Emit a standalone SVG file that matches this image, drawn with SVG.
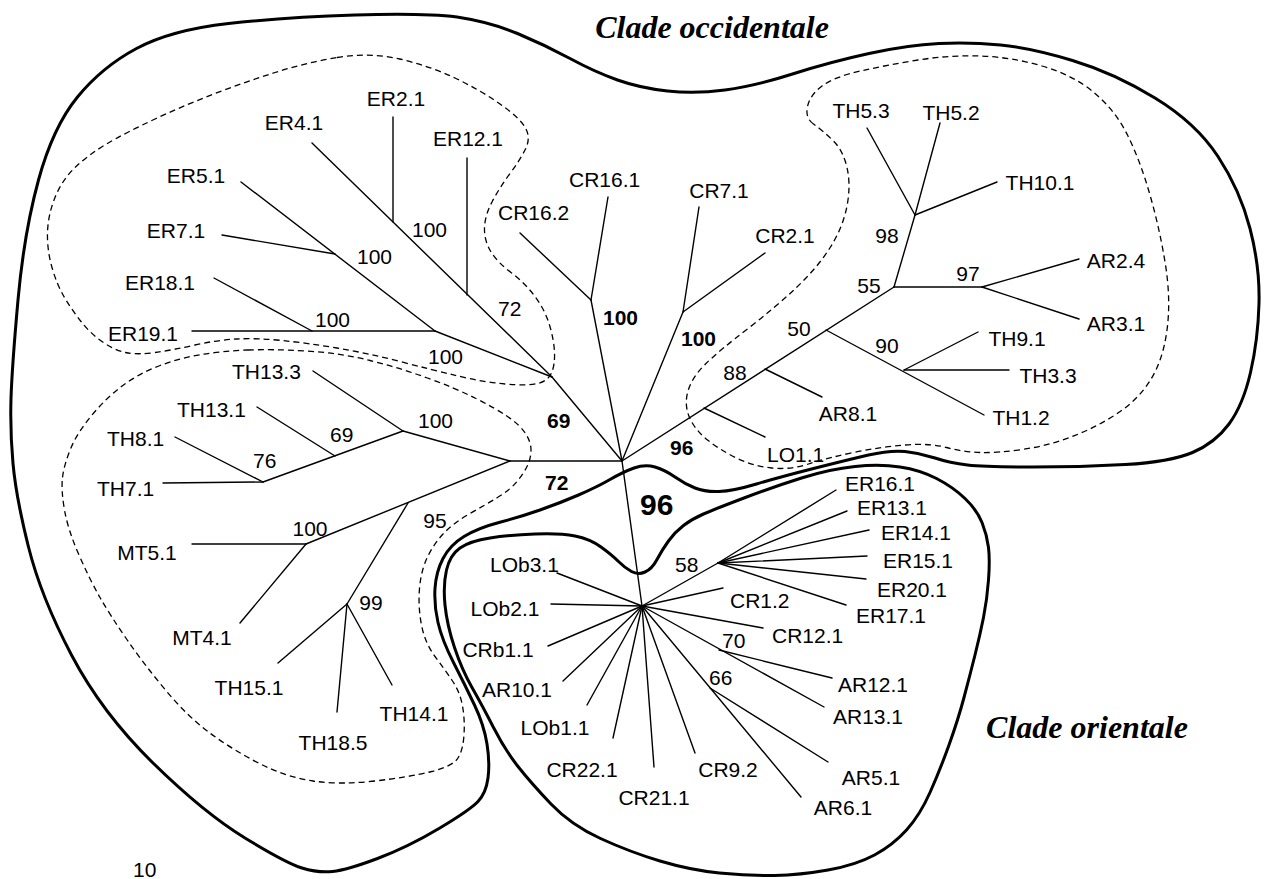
<svg xmlns="http://www.w3.org/2000/svg" width="1265" height="879" viewBox="0 0 1265 879">
<style>
.bg{fill:#fff}
.br{stroke:#000;stroke-width:1.4;fill:none;stroke-linecap:round}
.clade{stroke:#000;stroke-width:3;fill:none}
.grp{stroke:#000;stroke-width:1.3;fill:none;stroke-dasharray:6 4}
text{font-family:"Liberation Sans",Arial,sans-serif;font-size:21px;fill:#000}
.b{font-weight:bold}
.big{font-weight:bold;font-size:30px}
.title{font-family:"Liberation Serif","Times New Roman",serif;font-style:italic;font-weight:bold;font-size:32px}
</style>
<rect class="bg" width="1265" height="879"/>
<g id="regions">
<path id="clade-occidentale" class="clade" d="M355,15 Q424,13 457,17 Q490,22 517.5,33.5 Q545,45 570,58.5 Q595,72 617.5,80 Q640,88 667.5,91 Q695,94 725,90 Q755,86 792.5,74 Q830,62 869,53.5 Q908,45 939,43.5 Q970,42 1000.5,45 Q1031,48 1072.5,60.5 Q1114,73 1155,98 Q1196,123 1218,156.5 Q1240,190 1250,228.5 Q1260,267 1259,303.5 Q1258,340 1250.5,372.5 Q1243,405 1229,424 Q1215,443 1192.5,452.5 Q1170,462 1125,464.5 Q1080,467 1032.5,467 Q985,467 967.5,465 Q950,463 935,458 Q920,453 905,451.5 Q890,450 868.5,455 Q847,460 813.5,468.5 Q780,477 756.5,484 Q733,491 719,491.5 Q705,492 695,488 Q685,484 675,477 Q665,470 655,467 Q645,464 634,468 Q623,472 610,479.5 Q597,487 578.5,495 Q560,503 540,510 Q520,517 499,522.5 Q478,528 464,536.5 Q450,545 443,558.5 Q436,572 435,588.5 Q434,605 438,622.5 Q442,640 453.5,662.5 Q465,685 474.5,705 Q484,725 487,744 Q490,763 488,778 Q486,793 478,801.5 Q470,810 439,828.5 Q408,847 377.5,858.5 Q347,870 332.5,871.5 Q318,873 302,868 Q286,863 245,838 Q204,813 153,763 Q102,713 71.5,655 Q41,597 28.5,547 Q16,497 13,463.5 Q10,430 11,398.5 Q12,367 18,300 Q24,233 38.5,180 Q53,127 77.5,97 Q102,67 136.5,48.5 Q171,30 228.5,23.5 Q286,17 355,15 Z"/>
<path id="clade-orientale" class="clade" d="M631.5,571.5 Q638,575 645,572 Q652,569 657,559.5 Q662,550 668.5,541 Q675,532 683.5,525.5 Q692,519 703.5,514 Q715,509 744,498 Q773,487 801.5,478 Q830,469 855,466.5 Q880,464 900,467 Q920,470 936.5,478.5 Q953,487 965,498.5 Q977,510 982,522.5 Q987,535 988.5,547.5 Q990,560 988.5,580 Q987,600 983.5,617.5 Q980,635 975,655 Q970,675 964,697.5 Q958,720 949,745 Q940,770 930,792.5 Q920,815 906.5,830 Q893,845 874.5,855 Q856,865 828,870 Q800,875 774.5,875.5 Q749,876 719.5,873 Q690,870 660,861 Q630,852 600.5,838.5 Q571,825 551,804 Q531,783 518,766.5 Q505,750 493.5,727.5 Q482,705 472,687.5 Q462,670 454.5,647.5 Q447,625 445,605 Q443,585 446.5,570 Q450,555 460,548 Q470,541 490,538 Q510,535 535,534 Q560,533 575,536 Q590,539 601,547 Q612,555 618.5,561.5 Q625,568 631.5,571.5 Z"/>
<path id="group-ER" class="grp" d="M337,57.5 Q369,52 399.5,59 Q430,66 455,78 Q480,90 500,104 Q520,118 525.5,128 Q531,138 525.5,149 Q520,160 510,173.5 Q500,187 492.5,201 Q485,215 484.5,227.5 Q484,240 490.5,251 Q497,262 511,272.5 Q525,283 535,296.5 Q545,310 549.5,325 Q554,340 554.5,352.5 Q555,365 551.5,373 Q548,381 537.5,383.5 Q527,386 505,384 Q483,382 458,376 Q433,370 400,361.5 Q367,353 337,348 Q307,343 282,340.5 Q257,338 237,339 Q217,340 195,345 Q173,350 155,352.5 Q137,355 125.5,352.5 Q114,350 102,341.5 Q90,333 81,321.5 Q72,310 64.5,297.5 Q57,285 52,267.5 Q47,250 47.5,232.5 Q48,215 55,197.5 Q62,180 75,167.5 Q88,155 106.5,144 Q125,133 155,119 Q185,105 215,93.5 Q245,82 275,72.5 Q305,63 337,57.5 Z"/>
<path id="group-TH-west" class="grp" d="M248,350 Q273,349 306.5,351 Q340,353 370,360.5 Q400,368 427.5,378 Q455,388 475,398 Q495,408 507.5,416.5 Q520,425 525.5,433.5 Q531,442 531,450 Q531,458 527.5,465.5 Q524,473 517,481.5 Q510,490 497.5,497.5 Q485,505 470,513.5 Q455,522 445,532 Q435,542 428,556 Q421,570 419.5,588.5 Q418,607 421.5,625 Q425,643 435,656.5 Q445,670 452.5,681 Q460,692 462.5,706 Q465,720 464,735 Q463,750 458,758 Q453,766 431.5,771.5 Q410,777 375,781 Q340,785 313,781 Q286,777 259.5,763.5 Q233,750 210.5,733.5 Q188,717 165.5,690 Q143,663 126.5,639 Q110,615 100,597.5 Q90,580 79,555 Q68,530 64.5,510 Q61,490 62.5,477.5 Q64,465 70.5,449 Q77,433 92,415 Q107,397 123.5,385 Q140,373 160,365.5 Q180,358 201.5,354.5 Q223,351 248,350 Z"/>
<path id="group-TH-east" class="grp" d="M813.5,124 Q805,118 807.5,106.5 Q810,95 822,86 Q834,77 860.5,71 Q887,65 918,60 Q949,55 980,56 Q1011,57 1042,66 Q1073,75 1094,92.5 Q1115,110 1127.5,135 Q1140,160 1150,195 Q1160,230 1165.5,265 Q1171,300 1167,330 Q1163,360 1150.5,380 Q1138,400 1116.5,414 Q1095,428 1071,437 Q1047,446 1022,449.5 Q997,453 980,452.5 Q963,452 946.5,447.5 Q930,443 905,445 Q880,447 853.5,452.5 Q827,458 808.5,464 Q790,470 771.5,468 Q753,466 736.5,458 Q720,450 707.5,440 Q695,430 689.5,417.5 Q684,405 688,391 Q692,377 706,363.5 Q720,350 748,328.5 Q776,307 797,287 Q818,267 830.5,247 Q843,227 847,206 Q851,185 847,167.5 Q843,150 832.5,140 Q822,130 813.5,124 Z"/>
</g>
<g id="connectors" class="br">
<line x1="622" y1="461" x2="552" y2="377"/>
<line x1="552" y1="377" x2="312" y2="143"/>
<line x1="467" y1="295" x2="467" y2="158"/>
<line x1="393" y1="222" x2="393" y2="117"/>
<line x1="552" y1="377" x2="435" y2="331"/>
<line x1="435" y1="331" x2="241" y2="182"/>
<line x1="335" y1="254" x2="222" y2="235"/>
<line x1="435" y1="331" x2="192" y2="331"/>
<line x1="312" y1="331" x2="214" y2="278"/>
<line x1="622" y1="461" x2="591" y2="300"/>
<line x1="591" y1="300" x2="608" y2="197"/>
<line x1="591" y1="300" x2="520" y2="233"/>
<line x1="622" y1="461" x2="683" y2="312"/>
<line x1="683" y1="312" x2="699" y2="207"/>
<line x1="683" y1="312" x2="765" y2="253"/>
<line x1="622" y1="461" x2="894" y2="287"/>
<line x1="704" y1="408" x2="765" y2="437"/>
<line x1="765" y1="369" x2="822" y2="397"/>
<line x1="826" y1="330" x2="984" y2="415"/>
<line x1="904" y1="370" x2="978" y2="332"/>
<line x1="904" y1="370" x2="1009" y2="370"/>
<line x1="894" y1="287" x2="982" y2="287"/>
<line x1="982" y1="287" x2="1079" y2="259"/>
<line x1="982" y1="287" x2="1079" y2="319"/>
<line x1="894" y1="287" x2="915" y2="215"/>
<line x1="915" y1="215" x2="867" y2="128"/>
<line x1="915" y1="215" x2="940" y2="123"/>
<line x1="915" y1="215" x2="997" y2="182"/>
<line x1="622" y1="461" x2="510" y2="461"/>
<line x1="510" y1="461" x2="403" y2="431"/>
<line x1="403" y1="431" x2="313" y2="371"/>
<line x1="403" y1="431" x2="263" y2="482"/>
<line x1="335" y1="456" x2="257" y2="407"/>
<line x1="263" y1="482" x2="175" y2="437"/>
<line x1="263" y1="482" x2="163" y2="483"/>
<line x1="510" y1="461" x2="306" y2="544"/>
<line x1="306" y1="544" x2="192" y2="544"/>
<line x1="306" y1="544" x2="240" y2="623"/>
<line x1="408" y1="503" x2="347" y2="604"/>
<line x1="347" y1="604" x2="278" y2="663"/>
<line x1="347" y1="604" x2="337" y2="712"/>
<line x1="347" y1="604" x2="392" y2="685"/>
<line x1="622" y1="461" x2="642" y2="606"/>
<line x1="642" y1="606" x2="557" y2="573"/>
<line x1="642" y1="606" x2="551" y2="604"/>
<line x1="642" y1="606" x2="548" y2="646"/>
<line x1="642" y1="606" x2="563" y2="681"/>
<line x1="642" y1="606" x2="587" y2="705"/>
<line x1="642" y1="606" x2="613" y2="738"/>
<line x1="642" y1="606" x2="654" y2="767"/>
<line x1="642" y1="606" x2="695" y2="753"/>
<line x1="642" y1="606" x2="801" y2="797"/>
<line x1="710" y1="688" x2="828" y2="762"/>
<line x1="642" y1="606" x2="824" y2="707"/>
<line x1="719" y1="650" x2="832" y2="678"/>
<line x1="642" y1="606" x2="763" y2="628"/>
<line x1="642" y1="606" x2="723" y2="588"/>
<line x1="642" y1="606" x2="718" y2="563"/>
<line x1="718" y1="563" x2="836" y2="490"/>
<line x1="718" y1="563" x2="847" y2="511"/>
<line x1="718" y1="563" x2="869" y2="530"/>
<line x1="718" y1="563" x2="867" y2="556"/>
<line x1="718" y1="563" x2="866" y2="579"/>
<line x1="718" y1="563" x2="846" y2="605"/>
</g>
<g id="titles">
<text class="title" x="712" y="38" text-anchor="middle">Clade occidentale</text>
<text class="title" x="1087" y="738" text-anchor="middle">Clade orientale</text>
</g>
<g id="scale"><text x="133" y="877">10</text></g>
<g id="leaves-ER">
<g id="n-ER2.1"><text x="396" y="106" text-anchor="middle">ER2.1</text></g>
<g id="n-ER4.1"><text x="294" y="130" text-anchor="middle">ER4.1</text></g>
<g id="n-ER12.1"><text x="433" y="146">ER12.1</text></g>
<g id="n-ER5.1"><text x="196" y="183" text-anchor="middle">ER5.1</text></g>
<g id="n-ER7.1"><text x="176" y="238" text-anchor="middle">ER7.1</text></g>
<g id="n-ER18.1"><text x="160" y="290" text-anchor="middle">ER18.1</text></g>
<g id="n-ER19.1"><text x="108" y="341">ER19.1</text></g>
</g>
<g id="leaves-CR-west">
<g id="n-CR16.2"><text x="498" y="220">CR16.2</text></g>
<g id="n-CR16.1"><text x="569" y="187">CR16.1</text></g>
<g id="n-CR7.1"><text x="719" y="198" text-anchor="middle">CR7.1</text></g>
<g id="n-CR2.1"><text x="785" y="243" text-anchor="middle">CR2.1</text></g>
</g>
<g id="leaves-TH-east">
<g id="n-TH5.3"><text x="861" y="118" text-anchor="middle">TH5.3</text></g>
<g id="n-TH5.2"><text x="951" y="120" text-anchor="middle">TH5.2</text></g>
<g id="n-TH10.1"><text x="1040" y="190" text-anchor="middle">TH10.1</text></g>
<g id="n-AR2.4"><text x="1116" y="268" text-anchor="middle">AR2.4</text></g>
<g id="n-AR3.1"><text x="1116" y="331" text-anchor="middle">AR3.1</text></g>
<g id="n-TH9.1"><text x="1017" y="346" text-anchor="middle">TH9.1</text></g>
<g id="n-TH3.3"><text x="1048" y="383" text-anchor="middle">TH3.3</text></g>
<g id="n-TH1.2"><text x="1021" y="425" text-anchor="middle">TH1.2</text></g>
<g id="n-AR8.1"><text x="848" y="421" text-anchor="middle">AR8.1</text></g>
<g id="n-LO1.1"><text x="767" y="462">LO1.1</text></g>
</g>
<g id="leaves-TH-west">
<g id="n-TH13.3"><text x="232" y="379">TH13.3</text></g>
<g id="n-TH13.1"><text x="177" y="417">TH13.1</text></g>
<g id="n-TH8.1"><text x="107" y="446">TH8.1</text></g>
<g id="n-TH7.1"><text x="97" y="496">TH7.1</text></g>
<g id="n-MT5.1"><text x="147" y="560" text-anchor="middle">MT5.1</text></g>
<g id="n-MT4.1"><text x="202" y="645" text-anchor="middle">MT4.1</text></g>
<g id="n-TH15.1"><text x="249" y="695" text-anchor="middle">TH15.1</text></g>
<g id="n-TH18.5"><text x="333" y="750" text-anchor="middle">TH18.5</text></g>
<g id="n-TH14.1"><text x="414" y="721" text-anchor="middle">TH14.1</text></g>
</g>
<g id="leaves-orientale">
<g id="n-LOb3.1"><text x="490" y="572">LOb3.1</text></g>
<g id="n-LOb2.1"><text x="505" y="616" text-anchor="middle">LOb2.1</text></g>
<g id="n-CRb1.1"><text x="498" y="657" text-anchor="middle">CRb1.1</text></g>
<g id="n-AR10.1"><text x="517" y="697" text-anchor="middle">AR10.1</text></g>
<g id="n-LOb1.1"><text x="555" y="735" text-anchor="middle">LOb1.1</text></g>
<g id="n-CR22.1"><text x="582" y="777" text-anchor="middle">CR22.1</text></g>
<g id="n-CR21.1"><text x="654" y="805" text-anchor="middle">CR21.1</text></g>
<g id="n-CR9.2"><text x="728" y="777" text-anchor="middle">CR9.2</text></g>
<g id="n-AR6.1"><text x="843" y="815" text-anchor="middle">AR6.1</text></g>
<g id="n-AR5.1"><text x="871" y="785" text-anchor="middle">AR5.1</text></g>
<g id="n-AR12.1"><text x="873" y="692" text-anchor="middle">AR12.1</text></g>
<g id="n-AR13.1"><text x="868" y="724" text-anchor="middle">AR13.1</text></g>
<g id="n-CR12.1"><text x="772" y="643">CR12.1</text></g>
<g id="n-CR1.2"><text x="730" y="608">CR1.2</text></g>
<g id="n-ER16.1"><text x="845" y="491">ER16.1</text></g>
<g id="n-ER13.1"><text x="857" y="515">ER13.1</text></g>
<g id="n-ER14.1"><text x="881" y="540">ER14.1</text></g>
<g id="n-ER15.1"><text x="883" y="568">ER15.1</text></g>
<g id="n-ER20.1"><text x="877" y="597">ER20.1</text></g>
<g id="n-ER17.1"><text x="856" y="623">ER17.1</text></g>
</g>
<g id="bootstrap">
<text x="412" y="237">100</text>
<text x="357" y="264">100</text>
<text x="498" y="316">72</text>
<text x="315" y="327">100</text>
<text x="428" y="364">100</text>
<text class="b" x="603" y="325">100</text>
<text class="b" x="681" y="346">100</text>
<text x="887" y="243" text-anchor="middle">98</text>
<text x="869" y="293" text-anchor="middle">55</text>
<text x="968" y="281" text-anchor="middle">97</text>
<text x="799" y="336" text-anchor="middle">50</text>
<text x="887" y="353" text-anchor="middle">90</text>
<text x="735" y="380" text-anchor="middle">88</text>
<text class="b" x="670" y="455">96</text>
<text class="b" x="547" y="428">69</text>
<text class="b" x="545" y="490">72</text>
<text class="big" x="640" y="515">96</text>
<text x="418" y="428">100</text>
<text x="330" y="442">69</text>
<text x="253" y="468">76</text>
<text x="435" y="528" text-anchor="middle">95</text>
<text x="310" y="536" text-anchor="middle">100</text>
<text x="371" y="610" text-anchor="middle">99</text>
<text x="675" y="572">58</text>
<text x="722" y="648">70</text>
<text x="709" y="685">66</text>
</g>
</svg>
